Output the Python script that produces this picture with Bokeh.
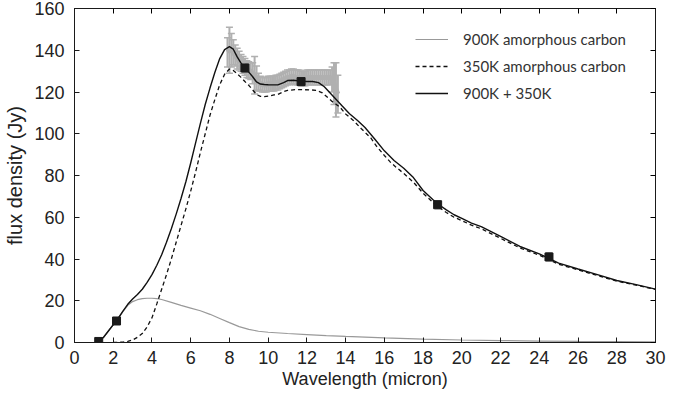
from bokeh.plotting import figure
from bokeh.models import (Range1d, LinearAxis, SingleIntervalTicker, Legend, LegendItem,
                          ColumnDataSource, Whisker, TeeHead)
from bokeh.embed import file_html
from bokeh.resources import INLINE

# ---------------- data ----------------
# 900K amorphous carbon (grey solid)
hot_x = [1.25, 1.5, 1.75, 2.0, 2.25, 2.5, 2.75, 3.0, 3.25, 3.5, 3.75, 4.0, 4.25, 4.5, 5.0, 5.5,
         6.0, 6.5, 7.0, 7.5, 8.0, 8.5, 9.0, 9.5, 10.0, 11.0, 12.0, 13.0, 14.0, 16.0, 18.0, 20.0,
         22.0, 24.0, 26.0, 28.0, 30.0]
hot_y = [0.0, 2.5, 5.5, 8.5, 11.5, 14.8, 17.8, 19.6, 20.5, 21.0, 21.2, 21.2, 21.0, 20.6, 19.2, 17.8,
         16.5, 15.2, 13.5, 11.5, 9.5, 7.6, 6.3, 5.4, 4.9, 4.3, 3.8, 3.3, 2.9, 2.2, 1.6, 1.2,
         0.9, 0.7, 0.5, 0.4, 0.3]

# 350K amorphous carbon (black dashed)
cold_x = [2.0, 2.5, 2.75, 3.0, 3.25, 3.5, 3.75, 4.0, 4.25, 4.5, 4.75, 5.0, 5.25, 5.5, 5.75, 6.0,
          6.25, 6.5, 6.75, 7.0, 7.25, 7.5, 7.75, 8.0, 8.2, 8.4, 8.6, 8.8, 9.0, 9.2, 9.4, 9.6,
          9.8, 10.0, 10.3, 10.5, 10.8, 11.0, 11.4, 11.8, 12.2, 12.5, 12.8, 13.0, 13.3, 13.7,
          14.0, 14.4, 14.8, 15.3, 15.6, 16.0, 16.3, 16.6, 17.0, 17.5, 18.0, 18.5, 18.8, 19.2,
          19.6, 20.0, 20.5, 21.0, 22.0, 23.0, 24.0, 25.0, 26.0, 27.0, 28.0, 29.0, 30.0]
cold_y = [0.0, 0.2, 0.5, 1.2, 2.5, 4.3, 7.5, 11.8, 18.5, 25.5, 32.5, 40.0, 48.0, 56.0, 64.0, 72.5,
          81.5, 91.0, 100.0, 109.0, 116.5, 123.5, 128.5, 131.0, 130.3, 128.7, 127.0, 125.0,
          123.2, 121.0, 118.8, 117.9, 117.8, 118.0, 118.6, 118.8, 120.2, 120.8, 121.1, 121.1,
          121.0, 120.8, 119.6, 118.0, 115.5, 112.8, 109.5, 106.4, 102.5, 98.0, 94.0, 89.6, 86.5,
          84.0, 81.0, 76.8, 71.5, 67.2, 64.9, 62.3, 60.0, 58.4, 56.2, 54.5, 49.9, 45.3, 41.8,
          37.5, 34.8, 32.1, 29.4, 27.5, 25.4]

# 900K + 350K (black solid)
sum_x = [1.25, 1.5, 1.75, 2.0, 2.25, 2.5, 2.75, 3.0, 3.25, 3.5, 3.75, 4.0, 4.25, 4.5, 4.75, 5.0,
         5.25, 5.5, 5.75, 6.0, 6.25, 6.5, 6.75, 7.0, 7.25, 7.5, 7.75, 8.0, 8.2, 8.4, 8.6, 8.8,
         9.0, 9.2, 9.4, 9.6, 9.8, 10.0, 10.3, 10.5, 10.8, 11.0, 11.3, 11.7, 12.0, 12.3, 12.6,
         12.9, 13.2, 13.5, 13.8, 14.2, 14.6, 15.0, 15.5, 16.0, 16.5, 17.0, 17.5, 18.0, 18.5,
         18.8, 19.2, 19.6, 20.0, 20.5, 21.0, 22.0, 23.0, 24.0, 25.0, 26.0, 27.0, 28.0, 29.0, 30.0]
sum_y = [0.5, 2.5, 5.5, 8.5, 11.5, 15.0, 18.3, 20.8, 23.0, 25.5, 28.8, 32.5, 37.0, 42.0, 48.0,
         54.5, 61.5, 69.0, 77.0, 86.0, 95.5, 105.0, 114.0, 122.0, 129.5, 136.0, 140.3, 141.7,
         140.5, 136.8, 133.8, 131.3, 129.5, 127.3, 124.8, 123.8, 123.6, 123.5, 123.4, 123.4,
         124.5, 125.5, 125.6, 125.2, 125.0, 125.0, 124.5, 122.5, 119.5, 116.5, 113.5, 109.6,
         106.5, 103.0, 97.5, 91.8, 87.2, 83.5, 79.0, 72.8, 68.5, 66.1, 63.5, 61.2, 59.5, 57.2,
         55.5, 50.8, 46.0, 42.5, 38.0, 35.2, 32.5, 29.7, 27.7, 25.6]

# spectrum with error bars (grey)
spec_x = [7.9, 8.0, 8.1, 8.2, 8.3, 8.4, 8.5, 8.6, 8.7, 8.8, 8.9, 9.0, 9.1, 9.2, 9.3, 9.4, 9.5,
          9.6, 9.7, 9.8, 9.9, 10.0, 10.1, 10.2, 10.3, 10.4, 10.5, 10.6, 10.7, 10.8, 10.9, 11.0,
          11.1, 11.2, 11.3, 11.4, 11.5, 11.6, 11.7, 11.8, 11.9, 12.0, 12.1, 12.2, 12.3, 12.4,
          12.5, 12.6, 12.7, 12.8, 12.9, 13.0, 13.1, 13.2, 13.3, 13.4, 13.5, 13.6]
spec_y = [139.0, 140.0, 140.0, 139.0, 137.5, 136.0, 135.0, 134.0, 133.0, 132.0, 131.0, 130.5,
          130.0, 129.0, 128.0, 126.5, 125.0, 124.0, 123.5, 123.5, 123.5, 124.0, 124.0, 124.0,
          124.0, 124.5, 124.5, 125.0, 125.5, 126.0, 126.5, 127.0, 127.0, 127.5, 127.5, 127.0,
          127.0, 127.0, 126.5, 126.5, 126.5, 127.0, 127.0, 127.0, 127.0, 127.0, 127.0, 127.0,
          127.0, 127.0, 127.0, 127.0, 127.0, 127.0, 126.0, 124.0, 121.0, 119.0]
spec_err = [7.0, 11.0, 8.0, 6.0, 5.0, 5.0, 4.5, 4.0, 4.0, 4.0, 4.0, 4.0, 4.0, 5.0, 9.0, 6.0,
            4.0, 3.5, 3.5, 3.5, 3.5, 3.5, 3.5, 3.5, 3.5, 3.5, 3.5, 3.5, 3.5, 3.5, 3.5, 3.5,
            3.5, 3.5, 3.5, 3.5, 3.5, 3.5, 3.5, 3.5, 3.5, 3.5, 3.5, 3.5, 3.5, 3.5, 3.5, 3.5,
            3.5, 3.5, 3.5, 3.5, 3.5, 3.5, 6.0, 10.0, 13.0, 9.0]

# photometry (black squares)
phot_x = [1.25, 2.17, 8.8, 11.7, 18.75, 24.5]
phot_y = [0.5, 10.3, 131.5, 125.0, 66.0, 41.0]
phot_err = [0.3, 0.5, 2.0, 2.0, 2.0, 2.0]

x_ticks_interval = 2
y_ticks_interval = 20

# ---------------- figure ----------------
p = figure(width=694, height=394, output_backend="svg", toolbar_location=None,
           x_range=Range1d(0, 30), y_range=Range1d(0, 160),
           min_border_left=74, min_border_right=39, min_border_top=8, min_border_bottom=52,
           x_axis_label="Wavelength (micron)", y_axis_label="flux density (Jy)")
p.grid.visible = False
p.outline_line_color = "#1a1a1a"
p.outline_line_width = 1
p.background_fill_color = "white"
p.border_fill_color = "white"

tick_font = "Liberation Sans"
for ax in p.xaxis + p.yaxis:
    ax.major_tick_in = 5
    ax.major_tick_out = 0
    ax.minor_tick_line_color = None
    ax.axis_line_color = "#1a1a1a"
    ax.major_tick_line_color = "#1a1a1a"
    ax.major_label_text_font = tick_font
    ax.major_label_text_font_size = "18px"
    ax.major_label_text_color = "#222222"
    ax.axis_label_text_font = tick_font
    ax.axis_label_text_font_size = "18px"
    ax.axis_label_text_font_style = "normal"
    ax.axis_label_text_color = "#222222"
p.xaxis.ticker = SingleIntervalTicker(interval=x_ticks_interval)
p.yaxis.ticker = SingleIntervalTicker(interval=y_ticks_interval)
p.xaxis.major_label_standoff = 4
p.xaxis.axis_label_standoff = 2
p.yaxis.major_label_standoff = 6
p.yaxis.axis_label_standoff = 5
p.yaxis.axis_label_text_font_size = "20px"

# mirrored ticks on top and right (no labels)
top = LinearAxis(ticker=SingleIntervalTicker(interval=x_ticks_interval), major_tick_in=5,
                 major_tick_out=0, minor_tick_line_color=None, major_label_text_color=None,
                 major_label_standoff=0, axis_line_color="#1a1a1a")
right = LinearAxis(ticker=SingleIntervalTicker(interval=y_ticks_interval), major_tick_in=5,
                   major_tick_out=0, minor_tick_line_color=None, major_label_text_color=None,
                   major_label_standoff=0, axis_line_color="#1a1a1a")
p.add_layout(top, "above")
p.add_layout(right, "right")

grey = "#b0b0b0"

# spectrum error bars
spec_src = ColumnDataSource(dict(x=spec_x, y=spec_y,
                                 lo=[a - b for a, b in zip(spec_y, spec_err)],
                                 hi=[a + b for a, b in zip(spec_y, spec_err)]))
wk = Whisker(source=spec_src, base="x", upper="hi", lower="lo", line_color=grey, line_width=2,
             upper_head=TeeHead(size=7, line_color=grey, line_width=1.5),
             lower_head=TeeHead(size=7, line_color=grey, line_width=1.5))
p.add_layout(wk)
p.line(spec_x, spec_y, line_color=grey, line_width=5)

# photometry error caps
phot_src = ColumnDataSource(dict(x=phot_x,
                                 lo=[a - b for a, b in zip(phot_y, phot_err)],
                                 hi=[a + b for a, b in zip(phot_y, phot_err)]))
wk2 = Whisker(source=phot_src, base="x", upper="hi", lower="lo", line_color="#888888",
              line_width=1, line_dash="1 1",
              upper_head=TeeHead(size=6, line_color="#888888", line_width=1),
              lower_head=TeeHead(size=6, line_color="#888888", line_width=1))
p.add_layout(wk2)

r_hot = p.line(hot_x, hot_y, line_color="#999999", line_width=1.2)
r_cold = p.line(cold_x, cold_y, line_color="#111111", line_width=1.3, line_dash="4 3")
r_sum = p.line(sum_x, sum_y, line_color="#111111", line_width=1.4)
p.scatter(phot_x, phot_y, marker="square", size=8, fill_color="#1a1a1a", line_color="#1a1a1a")

legend = Legend(items=[LegendItem(label="900K amorphous carbon", renderers=[r_hot]),
                       LegendItem(label="350K amorphous carbon", renderers=[r_cold]),
                       LegendItem(label="900K + 350K", renderers=[r_sum])],
                location=(341, 239), orientation="vertical",
                glyph_width=33, glyph_height=20, label_height=20, spacing=7,
                label_standoff=15, padding=0, margin=0,
                border_line_color=None, background_fill_alpha=0,
                label_text_font="Lato", label_text_font_size="15px", label_text_color="#333333")
p.add_layout(legend, "center")

open("out.html", "w").write(file_html(p, INLINE))
